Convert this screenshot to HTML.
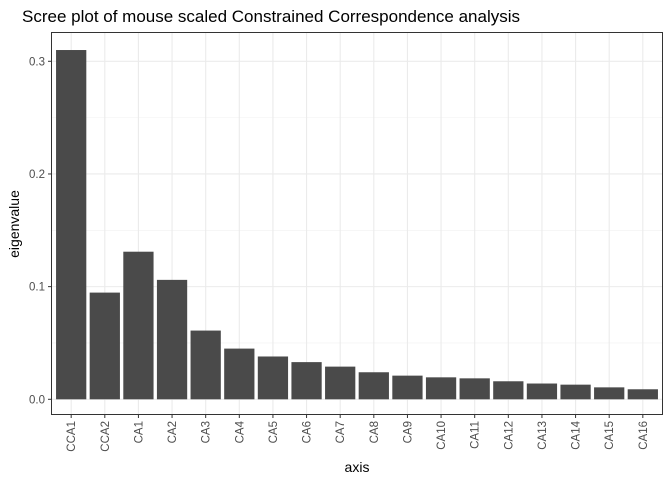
<!DOCTYPE html>
<html><head><meta charset="utf-8"><style>
body{margin:0;background:#fff;font-family:"Liberation Sans",Arial,sans-serif}
</style></head><body>
<svg id="chart" width="672" height="480" xmlns="http://www.w3.org/2000/svg" font-family="Liberation Sans, Arial, sans-serif">
<rect width="672" height="480" fill="#fff"/>
<text x="22" y="22" font-size="17" fill="#000">Scree plot of mouse scaled Constrained Correspondence analysis</text>
<g id="grid"></g><g id="bars"></g><g id="axes"></g>
<rect x="51.5" y="32.5" width="611" height="382" fill="none" stroke="#333" stroke-width="1"/>
<text x="357" y="472" font-size="14" text-anchor="middle">axis</text>
<text transform="translate(19,224) rotate(-90)" font-size="14" text-anchor="middle">eigenvalue</text>
</svg>
<script>
const categories=["CCA1","CCA2","CA1","CA2","CA3","CA4","CA5","CA6","CA7","CA8","CA9","CA10","CA11","CA12","CA13","CA14","CA15","CA16"];
const eigenvalues=[0.310,0.0947,0.131,0.106,0.061,0.045,0.038,0.033,0.029,0.024,0.021,0.0195,0.0186,0.016,0.014,0.013,0.0106,0.0089];
const yTicks=[0,0.1,0.2,0.3];
const yTickLabels=["0.0","0.1","0.2","0.3"];
const NS="http://www.w3.org/2000/svg";
const L=51,R=663,T=33,B=415;
const Y0=399.3,yScale=1126.7;
const y=v=>Y0-v*yScale;
const step=(R-L)/(categories.length+0.2);
const x=i=>L+(0.6+i)*step;
function mk(tag,attrs,parent){const e=document.createElementNS(NS,tag);for(const k in attrs)e.setAttribute(k,attrs[k]);parent.appendChild(e);return e;}
const grid=document.getElementById('grid'),bars=document.getElementById('bars'),axes=document.getElementById('axes');
for(let i=0;i<yTicks.length-1;i++){const m=(yTicks[i]+yTicks[i+1])/2;
const g=mk('line',{x1:L,x2:R,y1:y(m),y2:y(m),stroke:'#f0f0f0','stroke-width':0.6},grid);

}
yTicks.forEach((t,i)=>{
const g=mk('line',{x1:L,x2:R,y1:y(t),y2:y(t),stroke:'#ebebeb','stroke-width':1.1},grid);


const tk=mk('line',{x1:L-3,x2:L,y1:y(t),y2:y(t),stroke:'#333'},axes);


const lb=mk('text',{x:L-6,y:y(t)+4,'font-size':11.5,'text-anchor':'end',fill:'#4d4d4d'},axes);
lb.textContent=yTickLabels[i];


});
categories.forEach((c,i)=>{
const cx=x(i);
const g=mk('line',{x1:cx,x2:cx,y1:T,y2:B,stroke:'#ebebeb','stroke-width':1.1},grid);


const w=0.9*step;
const b=mk('rect',{x:cx-w/2,y:y(eigenvalues[i]),width:w,height:y(0)-y(eigenvalues[i]),fill:'#4a4a4a'},bars);


const tk=mk('line',{x1:cx,x2:cx,y1:B,y2:B+3,stroke:'#333'},axes);


const lb=mk('text',{transform:`translate(${cx+4},${B+6}) rotate(-90)`,'font-size':11.5,'text-anchor':'end',fill:'#4d4d4d'},axes);
lb.textContent=c;


});
</script>
</body></html>
